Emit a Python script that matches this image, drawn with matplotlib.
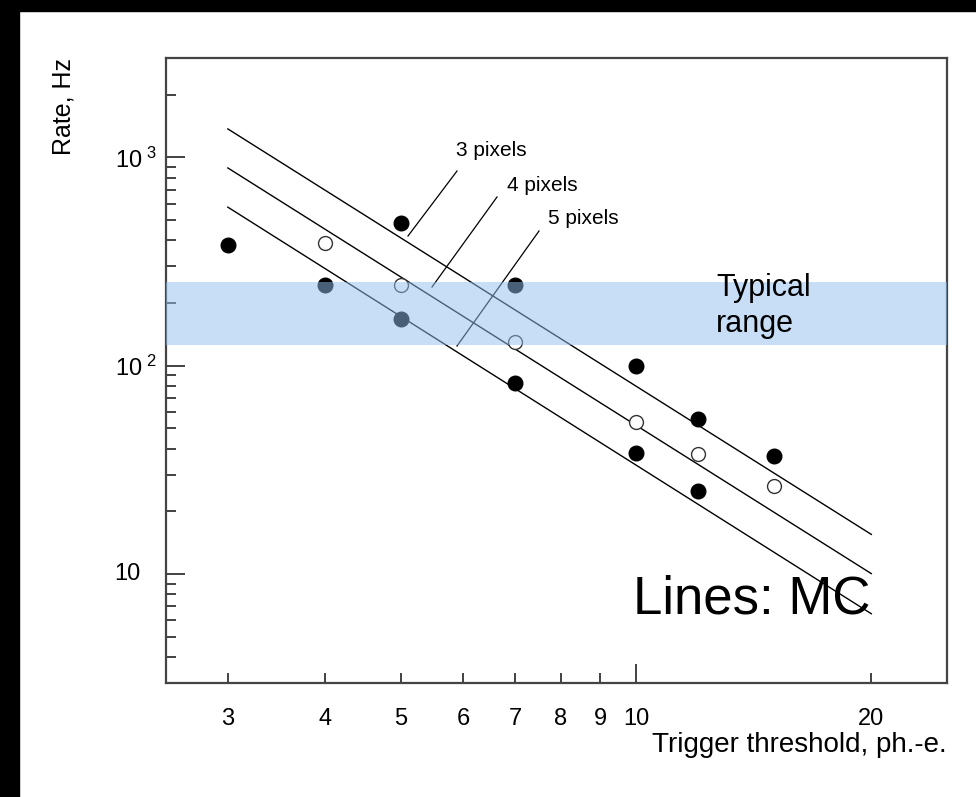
import numpy as np
import matplotlib.pyplot as plt
from matplotlib.patches import Rectangle
from matplotlib.ticker import FixedLocator, FixedFormatter, NullFormatter

plt.rcParams['font.family'] = ['Liberation Sans', 'DejaVu Sans']
plt.rcParams['mathtext.fontset'] = 'custom'
plt.rcParams['mathtext.rm'] = 'Liberation Sans'

# measured trigger rates (filled: 3 and 5 pixel majority, open: 4 pixels)
thr_3pix = [5, 7, 10, 12, 15]
rate_3pix = [483, 245, 100, 55.5, 36.8]
thr_4pix = [4, 5, 7, 10, 12, 15]
rate_4pix = [387, 243, 130, 53.7, 37.7, 26.4]
thr_5pix = [3, 4, 5, 7, 10, 12]
rate_5pix = [379, 245, 167, 82.8, 38.1, 25.0]

# MC power-law lines, endpoints at 3 and 20 ph.-e.
mc_thr = [3, 20]
mc_3pix = [1370, 15.5]
mc_4pix = [890, 10.05]
mc_5pix = [577, 6.45]

typical_range = (126, 252)

x_ticks = [3, 4, 5, 6, 7, 8, 9, 10, 20]
y_major = [10, 100, 1000]

W, H = 976, 797
fig = plt.figure(figsize=(W / 100, H / 100), dpi=100)
ax = fig.add_axes([166 / W, 1 - 683 / H, (947 - 166) / W, (683 - 58) / H])

for rates in (mc_3pix, mc_4pix, mc_5pix):
    ax.plot(mc_thr, rates, color='black', lw=1.0, zorder=2)

ax.plot(thr_3pix, rate_3pix, 'o', color='black', ms=10.5, zorder=3)
ax.plot(thr_5pix, rate_5pix, 'o', color='black', ms=10.5, zorder=3)
ax.plot(thr_4pix, rate_4pix, 'o', mfc='white', mec='#333333', mew=1.0, ms=10, zorder=3)

ax.axhspan(*typical_range, color=(146 / 255, 190 / 255, 240 / 255), alpha=0.5, lw=0, zorder=4)

ax.set_xscale('log')
ax.set_yscale('log')
ax.set_xlim(2.5, 25)
ax.set_ylim(3, 3000)

# x axis: long tick only at 10, all positions labelled
ax.xaxis.set_major_locator(FixedLocator([10]))
ax.xaxis.set_major_formatter(NullFormatter())
ax.xaxis.set_minor_locator(FixedLocator([t for t in x_ticks if t != 10]))
ax.xaxis.set_minor_formatter(NullFormatter())
for t in x_ticks:
    ax.text(t, -0.04, str(t), transform=ax.get_xaxis_transform(),
            ha='center', va='top', fontsize=17)

ax.yaxis.set_major_locator(FixedLocator(y_major))
ax.yaxis.set_major_formatter(FixedFormatter(['',
                                             r'$\mathregular{10^{\ 2}}$',
                                             r'$\mathregular{10^{\ 3}}$']))
ax.text(-0.033, 10, '10', transform=ax.get_yaxis_transform(),
        ha='right', va='center', fontsize=17)
y_minor = [v * m for v in (1, 10, 100, 1000) for m in range(2, 10)]
ax.yaxis.set_minor_locator(FixedLocator([v for v in y_minor if 3 <= v <= 3000]))
ax.yaxis.set_minor_formatter(NullFormatter())

ax.tick_params(which='both', direction='in', top=False, right=False, color='#222222', width=1.2)
ax.tick_params(which='major', length=14)
ax.tick_params(which='minor', length=7)
ax.tick_params(axis='y', labelsize=17, pad=6)
for s in ax.spines.values():
    s.set_color('#444444')
    s.set_linewidth(1.6)

ax.text(-0.131, 1.0, 'Rate, Hz', transform=ax.transAxes, rotation=90,
        ha='center', va='top', fontsize=18)
ax.text(1.0, -0.078, 'Trigger threshold, ph.-e.', transform=ax.transAxes,
        ha='right', va='top', fontsize=20)

# labels for the MC lines with leader lines (pixel positions on the canvas)
labels = [('3 pixels', (491, 151), (457, 171), (408, 236)),
          ('4 pixels', (542, 186), (497, 197), (432, 287)),
          ('5 pixels', (583, 219), (539, 231), (457, 346))]
inv = ax.transData.inverted()
for text, tpos, p0, p1 in labels:
    tx, ty = inv.transform((tpos[0], H - tpos[1]))
    ax.text(tx, ty, text, ha='center', va='center', fontsize=15)
    a = inv.transform((p0[0], H - p0[1]))
    b = inv.transform((p1[0], H - p1[1]))
    ax.plot([a[0], b[0]], [a[1], b[1]], color='black', lw=0.9, zorder=2)

tx, ty = inv.transform((716, H - 332))
ax.text(tx, ty, 'Typical\nrange', fontsize=22, ha='left', va='baseline',
        linespacing=1.25, zorder=5)
ax.text(0.598, 0.112, 'Lines: MC', transform=ax.transAxes, fontsize=38,
        ha='left', va='baseline', zorder=5)

# black frame at top and left edge of the slide
fig.patches.append(Rectangle((0, 0), 19 / W, 1, transform=fig.transFigure,
                             color='black', zorder=10))
fig.patches.append(Rectangle((0, 1 - 11 / H), 1, 11 / H, transform=fig.transFigure,
                             color='black', zorder=10))

fig.savefig('out.png', dpi=100)
